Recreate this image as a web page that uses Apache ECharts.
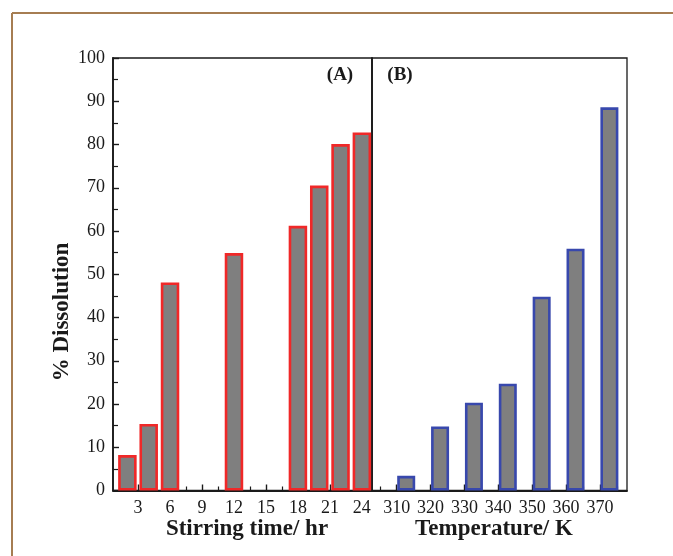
<!DOCTYPE html>
<html><head><meta charset="utf-8">
<script src="https://cdn.jsdelivr.net/npm/echarts@6/dist/echarts.min.js"></script>
<style>html,body{margin:0;padding:0;background:#fff}#chart{width:673px;height:556px}</style>
</head><body><div id="chart"></div>
<script>
// Panel A: dissolution vs stirring time
const stirTimes = [2, 4, 6, 12, 18, 20, 22, 24];
const stirDissolution = [8.2, 15.4, 48.1, 54.9, 61.2, 70.5, 80.1, 82.8];
const stirTickLabels = [3, 6, 9, 12, 15, 18, 21, 24];
const stirMinorTicks = [1.5, 4.5, 7.5, 10.5, 13.5, 16.5, 19.5, 22.5];

// Panel B: dissolution vs temperature
const temperatures = [310, 320, 330, 340, 350, 360, 370];
const tempDissolution = [3.4, 14.8, 20.3, 24.7, 44.8, 55.9, 88.6];
const tempTickLabels = [310, 320, 330, 340, 350, 360, 370];
const tempMinorTicks = [305, 315, 325, 335, 345, 355, 365, 375];

const yTickLabels = [0, 10, 20, 30, 40, 50, 60, 70, 80, 90, 100];

const SERIF = "'Liberation Serif','Times New Roman',serif";
const INK = '#1a1a1a';
// temperature bars sit just right of their tick, between major and minor tick
const TEMP_BAR_SHIFT = 2.8;

const chart = echarts.init(document.getElementById('chart'), null, {renderer: 'canvas'});

function xAxisBase(grid, min, max, labels, minors, major) {
  const common = {
    type: 'value', gridIndex: grid, min: min, max: max, position: 'bottom',
    splitLine: {show: false}
  };
  if (major) {
    return Object.assign(common, {
      axisLine: {show: true, onZero: false, lineStyle: {color: INK, width: 1.8}},
      axisTick: {show: true, inside: true, length: 6, customValues: labels, lineStyle: {color: INK, width: 1.4}},
      axisLabel: {show: true, customValues: labels, margin: 9, color: INK, fontFamily: SERIF, fontSize: 18}
    });
  }
  return Object.assign(common, {
    axisLine: {show: false},
    axisTick: {show: true, inside: true, length: 4, customValues: minors, lineStyle: {color: INK, width: 1.2}},
    axisLabel: {show: false}
  });
}

chart.setOption({
  animation: false,
  backgroundColor: '#fff',
  grid: [
    {left: 113, top: 58, width: 259, height: 432.5, show: true, borderColor: INK, borderWidth: 1.3, backgroundColor: 'transparent'},
    {left: 372, top: 58, width: 255, height: 432.5, show: true, borderColor: INK, borderWidth: 1.3, backgroundColor: 'transparent'}
  ],
  xAxis: [
    xAxisBase(0, 0.65, 24.95, stirTickLabels, stirMinorTicks, true),
    xAxisBase(0, 0.65, 24.95, stirTickLabels, stirMinorTicks, false),
    xAxisBase(1, 302.7, 378.0, tempTickLabels, tempMinorTicks, true),
    xAxisBase(1, 302.7, 378.0, tempTickLabels, tempMinorTicks, false)
  ],
  yAxis: [
    {
      type: 'value', gridIndex: 0, min: 0, max: 100, interval: 10,
      axisLine: {show: true, lineStyle: {color: INK, width: 1.8}},
      axisTick: {show: true, inside: true, length: 6, lineStyle: {color: INK, width: 1.4}},
      minorTick: {show: true, splitNumber: 2, length: 5, lineStyle: {color: INK, width: 1.2}},
      axisLabel: {show: true, margin: 8, color: INK, fontFamily: SERIF, fontSize: 18,
        customValues: yTickLabels},
      splitLine: {show: false}
    },
    {
      type: 'value', gridIndex: 1, min: 0, max: 100, interval: 10,
      axisLine: {show: true, lineStyle: {color: INK, width: 1.6}},
      axisTick: {show: false}, axisLabel: {show: false}, splitLine: {show: false}
    }
  ],
  series: [
    {
      type: 'bar', xAxisIndex: 0, yAxisIndex: 0, barWidth: 18.5,
      data: stirTimes.map((t, i) => [t, stirDissolution[i]]),
      itemStyle: {color: '#7f7f7f', borderColor: '#f02828', borderWidth: 2.6}
    },
    {
      type: 'bar', xAxisIndex: 2, yAxisIndex: 1, barWidth: 18,
      data: temperatures.map((t, i) => [t + TEMP_BAR_SHIFT, tempDissolution[i]]),
      itemStyle: {color: '#7f7f7f', borderColor: '#3848ad', borderWidth: 2.6}
    }
  ],
  graphic: [
    // page frame
    {type: 'line', shape: {x1: 12, y1: 13, x2: 673, y2: 13}, style: {stroke: '#a67d52', lineWidth: 2}, silent: true},
    {type: 'line', shape: {x1: 12, y1: 13, x2: 12, y2: 556}, style: {stroke: '#a67d52', lineWidth: 2}, silent: true},
    // panel tags
    {type: 'text', x: 340, y: 75, style: {text: '(A)', fontFamily: SERIF, fontWeight: 'bold', fontSize: 19, fill: INK, textAlign: 'center', textVerticalAlign: 'middle'}},
    {type: 'text', x: 400, y: 75, style: {text: '(B)', fontFamily: SERIF, fontWeight: 'bold', fontSize: 19, fill: INK, textAlign: 'center', textVerticalAlign: 'middle'}},
    // axis titles
    {type: 'text', x: 247, y: 529, style: {text: 'Stirring time/ hr', fontFamily: SERIF, fontWeight: 'bold', fontSize: 23, fill: INK, textAlign: 'center', textVerticalAlign: 'middle'}},
    {type: 'text', x: 494, y: 529, style: {text: 'Temperature/ K', fontFamily: SERIF, fontWeight: 'bold', fontSize: 23, fill: INK, textAlign: 'center', textVerticalAlign: 'middle'}},
    {type: 'text', x: 62, y: 312, rotation: Math.PI / 2, style: {text: '% Dissolution', fontFamily: SERIF, fontWeight: 'bold', fontSize: 23, fill: INK, textAlign: 'center', textVerticalAlign: 'middle'}}
  ]
});
</script>
</body></html>
